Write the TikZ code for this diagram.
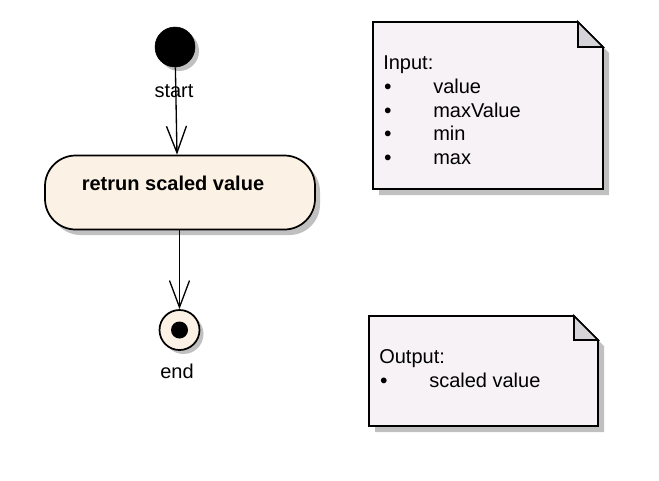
\documentclass[tikz,border=0pt]{standalone}
\usepackage{fontspec}
\setmainfont{Liberation Sans}
\usetikzlibrary{arrows.meta}
\definecolor{actfill}{HTML}{FBF1E4}
\definecolor{notefill}{HTML}{F6F2F6}
\definecolor{foldfill}{HTML}{D6D4D8}
\definecolor{shadowgray}{HTML}{C0C0C0}
\tikzset{
  lbl/.style={font=\fontsize{15}{18}\selectfont, inner sep=0pt, anchor=base west},
  flow/.style={draw=black, line width=1pt, -{Straight Barb[length=20pt,width=15pt,line width=1pt]}},
  shade/.style={fill=shadowgray, draw=none},
  notebox/.style={fill=notefill, draw=black, line width=1.3pt, line join=miter},
  foldbox/.style={fill=foldfill, draw=black, line width=1.3pt, line join=miter},
}
\begin{document}
\begin{tikzpicture}[x=0.75pt, y=-0.75pt]
\useasboundingbox (0,0) rectangle (659,480);
% start
\fill[shadowgray] (179,51) circle[radius=20];
\node[circle, fill=black, draw=black, minimum size=30pt, inner sep=0pt] (start) at (175,47) {};
\node[lbl, anchor=base] (startlbl) at (174,97) {start};
% activity
\fill[shadowgray, rounded corners=23pt] (50,161) rectangle (320,235);
\node[draw=black, line width=1.3pt, fill=actfill, rounded corners=23pt, minimum width=202.5pt, minimum height=55.5pt, inner sep=0pt] (act) at (180,192.5) {};
\node[lbl, anchor=base, font=\fontsize{15}{18}\selectfont\bfseries] (acttxt) at (173,190) {retrun scaled value};
% end
\fill[shadowgray] (183.5,334) circle[radius=20];
\node[circle, fill=actfill, draw=black, line width=1.3pt, minimum size=30pt, inner sep=0pt] (end) at (179.5,330) {};
\fill[black] (end.center) circle[radius=8.5];
\node[lbl, anchor=base] (endlbl) at (177,378) {end};
% connectors
\draw[flow] (start) -- ([xshift=-2.25pt]act.north);
\draw[flow] (end |- act.south) -- (end.north);
% input note
\fill[shadowgray] (379,28) -- (584,28) -- (609,53) -- (609,195) -- (379,195) -- cycle;
\draw[notebox] (373,22) -- (578,22) -- (603,47) -- (603,189) -- (373,189) -- cycle;
\draw[foldbox] (578,22) -- (578,47) -- (603,47) -- cycle;
\node[lbl] (in0) at (383,69) {Input:};
\foreach \t/\y [count=\i] in {value/93, maxValue/117, min/140, max/164}{
  \node[lbl] (inb\i) at (384,\y) {\textbf{•}};
  \node[lbl] (in\i) at (433,\y) {\t};
}
% output note
\fill[shadowgray] (375,322) -- (580,322) -- (604,346) -- (604,432) -- (375,432) -- cycle;
\draw[notebox] (369,316) -- (574,316) -- (598,340) -- (598,426) -- (369,426) -- cycle;
\draw[foldbox] (574,316) -- (574,340) -- (598,340) -- cycle;
\node[lbl] (out0) at (379,363) {Output:};
\node[lbl] (outb1) at (380,387) {\textbf{•}};
\node[lbl] (out1) at (429,387) {scaled value};
\end{tikzpicture}
\end{document}
